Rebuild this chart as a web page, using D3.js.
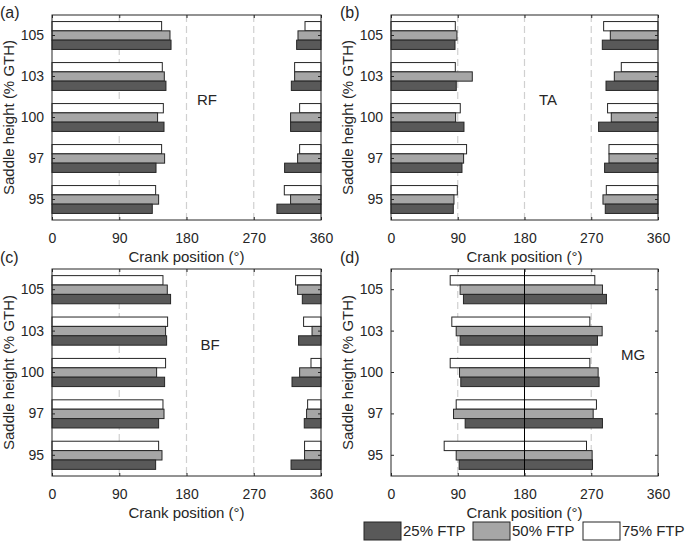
<!DOCTYPE html>
<html>
<head>
<meta charset="utf-8">
<script src="https://cdn.jsdelivr.net/npm/d3@7"></script>
<style>
  html, body { margin: 0; padding: 0; background: #fff; }
  svg { display: block; }
  text { font-family: "Liberation Sans", Arial, sans-serif; fill: #262626; }
</style>
</head>
<body>
<svg id="chart" width="685" height="552"></svg>
<script>
// ---------------- DATA ----------------
const heights = ["105", "103", "100", "97", "95"];          // saddle height (% GTH), top to bottom
const levels = ["75% FTP", "50% FTP", "25% FTP"];           // bar order inside a group, top to bottom
const legendLevels = ["25% FTP", "50% FTP", "75% FTP"];
const xTicks = [0, 90, 180, 270, 360];
const muscles = ["RF", "TA", "BF", "MG"];
const panelLetters = ["(a)", "(b)", "(c)", "(d)"];

// onset / offset of activity (crank angle, deg), per FTP level, heights 105,103,100,97,95
const rfOnset25  = [327.4, 320.3, 319.3, 311.3, 301.0];
const rfOnset50  = [329.2, 324.7, 319.3, 328.7, 319.3];
const rfOnset75  = [338.6, 324.7, 331.4, 331.4, 310.9];
const rfOffset25 = [159.3, 152.5, 149.9, 139.2, 134.2];
const rfOffset50 = [157.9, 150.3, 141.3, 150.7, 142.7];
const rfOffset75 = [146.7, 147.6, 149.0, 146.7, 138.7];

const taOnset25  = [284.9, 289.9, 279.9, 288.0, 288.9];
const taOnset50  = [295.7, 301.1, 297.0, 293.9, 285.8];
const taOnset75  = [286.7, 310.5, 292.0, 293.9, 290.3];
const taOffset25 = [86.3, 88.0, 98.4, 95.7, 84.0];
const taOffset50 = [88.9, 109.6, 87.1, 97.9, 84.9];
const taOffset75 = [86.7, 86.7, 93.4, 101.9, 89.4];

const bfOnset25  = [335.0, 330.0, 321.2, 337.6, 319.9];
const bfOnset50  = [328.7, 348.0, 331.4, 340.7, 338.0];
const bfOnset75  = [326.0, 336.7, 346.6, 342.1, 338.0];
const bfOffset25 = [158.7, 153.4, 150.7, 142.7, 138.7];
const bfOffset50 = [154.3, 152.0, 140.0, 149.9, 147.2];
const bfOffset75 = [148.5, 154.7, 152.0, 148.5, 142.7];

const mgOnset25  = [97.7, 93.2, 94.1, 100.0, 91.9];
const mgOnset50  = [93.2, 87.9, 92.4, 84.3, 87.9];
const mgOnset75  = [79.8, 82.0, 79.8, 87.9, 71.7];
const mgOffset25 = [290.5, 278.4, 280.6, 285.1, 271.7];
const mgOffset50 = [285.1, 284.7, 279.3, 272.6, 271.2];
const mgOffset75 = [274.8, 268.1, 268.1, 277.0, 263.6];

const muscleData = {
  RF: { onset: { "25% FTP": rfOnset25, "50% FTP": rfOnset50, "75% FTP": rfOnset75 },
        offset: { "25% FTP": rfOffset25, "50% FTP": rfOffset50, "75% FTP": rfOffset75 } },
  TA: { onset: { "25% FTP": taOnset25, "50% FTP": taOnset50, "75% FTP": taOnset75 },
        offset: { "25% FTP": taOffset25, "50% FTP": taOffset50, "75% FTP": taOffset75 } },
  BF: { onset: { "25% FTP": bfOnset25, "50% FTP": bfOnset50, "75% FTP": bfOnset75 },
        offset: { "25% FTP": bfOffset25, "50% FTP": bfOffset50, "75% FTP": bfOffset75 } },
  MG: { onset: { "25% FTP": mgOnset25, "50% FTP": mgOnset50, "75% FTP": mgOnset75 },
        offset: { "25% FTP": mgOffset25, "50% FTP": mgOffset50, "75% FTP": mgOffset75 } }
};

// ---------------- LAYOUT / STYLE ----------------
const colors = { "25% FTP": "#595959", "50% FTP": "#a6a6a6", "75% FTP": "#ffffff" };
const panels = [
  { x0: 52,  x1: 321, y0: 15,  y1: 220, lx: 0,   ly: 18,  name: [207, 100] },
  { x0: 391, x1: 658, y0: 15,  y1: 220, lx: 340, ly: 18,  name: [548, 100] },
  { x0: 52,  x1: 321, y0: 269, y1: 476, lx: 0,   ly: 263, name: [210, 345] },
  { x0: 391, x1: 658, y0: 269, y1: 476, lx: 340, ly: 263, name: [633, 355] }
];

const svg = d3.select("#chart");

muscles.forEach((m, i) => {
  const p = panels[i];
  const x = d3.scaleLinear().domain([0, 360]).range([p.x0, p.x1]);
  const y = d3.scaleBand().domain(heights).range([p.y0, p.y1]).paddingInner(0.32).paddingOuter(0.16);
  const yi = d3.scaleBand().domain(levels).range([0, y.bandwidth()]);
  const g = svg.append("g");

  // dashed gridlines
  const gridVals = m === "MG" ? [90, 270] : [90, 180, 270];
  g.selectAll("line.grid").data(gridVals).join("line")
    .attr("x1", d => x(d)).attr("x2", d => x(d))
    .attr("y1", p.y0).attr("y2", p.y1)
    .attr("stroke", "#d0d0d0").attr("stroke-width", 1.2)
    .attr("stroke-dasharray", "7,4");

  // bars
  const segs = [];
  heights.forEach((h, hi) => {
    levels.forEach(lv => {
      const on = muscleData[m].onset[lv][hi];
      const off = muscleData[m].offset[lv][hi];
      if (on > off) {
        segs.push({ h, lv, a: on, b: 360 });
        segs.push({ h, lv, a: 0, b: off });
      } else {
        segs.push({ h, lv, a: on, b: off });
      }
    });
  });
  g.selectAll("rect.bar").data(segs).join("rect")
    .attr("x", d => x(d.a))
    .attr("width", d => x(d.b) - x(d.a))
    .attr("y", d => y(d.h) + yi(d.lv))
    .attr("height", yi.bandwidth())
    .attr("fill", d => colors[d.lv])
    .attr("stroke", "#262626").attr("stroke-width", 1);

  if (m === "MG") {
    g.append("line")
      .attr("x1", x(180)).attr("x2", x(180))
      .attr("y1", p.y0).attr("y2", p.y1)
      .attr("stroke", "#000").attr("stroke-width", 1);
  }

  // axes
  const axB = g.append("g").attr("transform", `translate(0,${p.y1})`)
    .call(d3.axisBottom(x).tickValues(xTicks).tickFormat(d3.format("d")).tickSizeInner(-3).tickSizeOuter(0).tickPadding(13));
  const axT = g.append("g").attr("transform", `translate(0,${p.y0})`)
    .call(d3.axisTop(x).tickValues(xTicks).tickFormat("").tickSizeInner(-3).tickSizeOuter(0));
  const axL = g.append("g").attr("transform", `translate(${p.x0},0)`)
    .call(d3.axisLeft(y).tickSizeInner(-3).tickSizeOuter(0).tickPadding(8));
  const axR = g.append("g").attr("transform", `translate(${p.x1},0)`)
    .call(d3.axisRight(y).tickFormat("").tickSizeInner(-3).tickSizeOuter(0));
  [axB, axT, axL, axR].forEach(a => {
    a.select(".domain").remove();
    a.selectAll("line").attr("stroke", "#262626");
    a.selectAll("text").attr("font-size", 14).attr("fill", "#262626")
      .attr("font-family", "'Liberation Sans', Arial, sans-serif");
  });
  g.append("rect")
    .attr("x", p.x0).attr("y", p.y0)
    .attr("width", p.x1 - p.x0).attr("height", p.y1 - p.y0)
    .attr("fill", "none").attr("stroke", "#262626").attr("stroke-width", 1);

  // axis labels
  g.append("text")
    .attr("x", (p.x0 + p.x1) / 2).attr("y", p.y1 + 42)
    .attr("text-anchor", "middle").attr("font-size", 15)
    .text("Crank position (°)");
  g.append("text")
    .attr("transform", `translate(${p.x0 - 38},${(p.y0 + p.y1) / 2}) rotate(-90)`)
    .attr("text-anchor", "middle").attr("font-size", 15)
    .text("Saddle height (% GTH)");

  // muscle name
  g.append("text")
    .attr("x", p.name[0]).attr("y", p.name[1] + 5)
    .attr("text-anchor", "middle").attr("font-size", 15)
    .text(m);

  // panel letter
  g.append("text")
    .attr("x", p.lx).attr("y", p.ly)
    .attr("font-family", "'Liberation Serif', 'Times New Roman', serif")
    .attr("font-size", 16).attr("fill", "#000")
    .text(panelLetters[i]);
});

// legend
const legX = d3.scaleOrdinal().domain(legendLevels).range([364, 473, 583]);
const leg = svg.append("g");
leg.selectAll("rect").data(legendLevels).join("rect")
  .attr("x", d => legX(d)).attr("y", 522)
  .attr("width", 37).attr("height", 18)
  .attr("fill", d => colors[d]).attr("stroke", "#262626").attr("stroke-width", 1);
leg.selectAll("text").data(legendLevels).join("text")
  .attr("x", d => legX(d) + 39).attr("y", 536)
  .attr("font-size", 15)
  .text(d => d);
</script>
</body>
</html>
